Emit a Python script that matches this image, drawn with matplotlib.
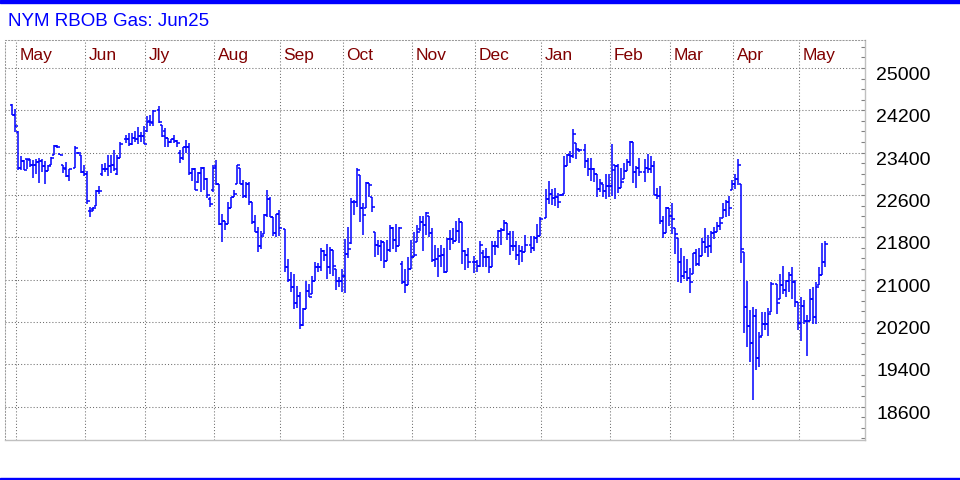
import numpy as np
import pandas as pd
import matplotlib
matplotlib.use("Agg")
import matplotlib.pyplot as plt
import matplotlib.transforms as mtransforms
from matplotlib.patches import Rectangle

# ---------------- data (one value per weekday, None = no trading) ----------------
start_date = "2024-04-29"
end_date = "2025-05-13"

opens = [
    24300, 24111, 23794, 23114, 23241, 23286, 23254, 23171, 23159, 23222,
    23241, 23146, 23044, 23159, 23349, 23527, 23375, 23159, 23100, 22968,
    None, 23108, 23400, 23349, 23032, 23000, 22301, 22330, 22400, 22682,
    23000, 23082, 23095, 23146, 23159, 23000, 23305, None, 23650, 23667,
    23571, 23679, 23667, 23711, 23711, 23800, 23990, 23960, None, 24200,
    23927, 23800, 23673, 23597, 23654, 23629, 23400, 23292, 23502, 23514,
    23006, 23089, 22850, 23019, 23102, 22911, 22530, 22700, 23150, 22803,
    22054, 22117, 22054, 22359, 22562, 22816, 23102, 22816, 22575, 22816,
    22467, 22086, 21895, 21628, 21863, 22213, 22530, 22181, 21876, 22232,
    None, 21965, 21248, 21000, 20867, 20568, 20695, 20143, 20454, 20790,
    20727, 20981, 21248, 21248, 21540, 21457, 21248, 21552, 21203, 20981,
    20981, 21076, 21476, 21700, 22473, 22473, 22981, 22346, 22346, 22822,
    22568, 21902, 21648, 21629, 21711, 21362, 21565, 21984, 21743, 21629,
    21300, 20949, 20905, 21203, 21425, 21711, 21950, 22092, 22041, 22200,
    21883, 21375, 21387, 21438, 21470, 21152, 21775, 21775, 21724, 21927,
    22086, 21533, 21470, None, 21330, 21330, 21267, 21500, 21419, 21419,
    21241, 21629, 21629, 21914, 21946, 22073, 21863, 21641, 21641, 21470,
    21546, 21514, None, 21660, 21597, 21787, 21819, None, 22168, 22517,
    22613, 22549, 22568, 22600, 22620, 23148, 23356, 23337, 23589, 23450,
    None, 23450, 23243, 23098, 23085, 22991, 22720, 22814, 22676, 22770,
    22770, 23161, 23148, 22739, 22896, 23054, 23224, 23602, 23035, 23117,
    None, 23035, 23117, 23098, 23148, 22594, 22581, 22109, 21888, 22361,
    22203, 21983, 21794, 21334, 21069, 21145, 21038, 21101, 21498, 21290,
    21447, 21705, 21623, 21635, 21876, 21908, 22015, 22161, 22319, 22465,
    22699, 22813, 22901, 22813, 21528, 20483, 20116, 19800, 20312, 19521,
    19945, 20167, 20167, 20388, None, 20914, 20642, 20895, 20800, 20971,
    21085, 20958, 20578, 20186, 20496, 20211, 20218, 20642, 20294, 20895,
    21085, 21325,
]

highs = [
    24314, 24225, 23806, 23330, 23254, 23286, 23273, 23254, 23286, 23298,
    23286, 23241, 23159, 23317, 23540, 23540, 23375, 23159, 23222, 23095,
    None, 23521, 23413, 23349, 23159, 23057, 22378, 22365, 22690, 22778,
    23190, 23210, 23349, 23362, 23451, 23349, 23603, None, 23730, 23762,
    23762, 23806, 23889, 23781, 23908, 24100, 24117, 24200, None, 24276,
    23927, 23863, 23673, 23654, 23737, 23641, 23451, 23514, 23641, 23578,
    23102, 23102, 23038, 23133, 23133, 22924, 22562, 23165, 23260, 22803,
    22244, 22117, 22467, 22562, 22689, 23165, 23102, 22879, 22848, 22848,
    22467, 22213, 21997, 21914, 22232, 22689, 22562, 22181, 22244, 22308,
    None, 21965, 21394, 21140, 21108, 20886, 20759, 20473, 20981, 20917,
    21076, 21330, 21311, 21603, 21552, 21679, 21616, 21552, 21203, 21044,
    21203, 21775, 21997, 22537, 22505, 23108, 22981, 22441, 22854, 22822,
    22568, 21902, 21743, 21743, 21711, 21743, 22029, 21990, 22060, 21997,
    21362, 21203, 21425, 21743, 21902, 22029, 22200, 22200, 22276, 22200,
    21978, 21660, 21597, 21660, 21597, 21787, 21946, 21978, 22105, 22156,
    22086, 21565, 21597, None, 21451, 21375, 21724, 21565, 21597, 21438,
    21724, 21724, 21946, 21978, 22136, 22073, 21914, 21914, 21724, 21660,
    21629, 21851, None, 21819, 21832, 22060, 22187, None, 22708, 22867,
    22708, 22740, 22644, 22620, 23337, 23369, 23432, 23854, 23589, 23463,
    None, 23558, 23306, 23306, 23117, 22991, 22896, 22814, 22991, 22991,
    23558, 23161, 23180, 23117, 23211, 23287, 23621, 23602, 23148, 23306,
    None, 23274, 23369, 23337, 23243, 22739, 22770, 22203, 22380, 22361,
    22443, 21983, 21794, 21605, 21447, 21384, 21227, 21510, 21573, 21605,
    21780, 21971, 21844, 21927, 22003, 22098, 22192, 22446, 22496, 22585,
    22889, 23003, 23281, 22813, 21528, 20971, 20433, 20483, 20452, 20009,
    20388, 20388, 20471, 20958, None, 20914, 21104, 21256, 20990, 21148,
    21230, 20990, 20578, 20673, 20623, 20325, 20832, 20863, 20958, 21230,
    21686, 21737,
]

lows = [
    24111, 23794, 23063, 23063, 23076, 23082, 23127, 22924, 23000, 22828,
    23032, 22809, 23044, 23159, 23349, 23489, 23349, 23019, 22936, 22866,
    None, 23108, 23381, 23013, 22968, 22428, 22193, 22301, 22397, 22619,
    22968, 23032, 22955, 23019, 23057, 22981, 23298, None, 23590, 23527,
    23540, 23603, 23571, 23603, 23571, 23781, 23908, 23895, None, 23958,
    23692, 23514, 23514, 23590, 23578, 23514, 23197, 23260, 23387, 22975,
    22867, 22701, 22828, 22657, 22689, 22549, 22371, 22657, 22784, 22035,
    21705, 21939, 22054, 22359, 22562, 22816, 22816, 22549, 22549, 22403,
    22054, 21895, 21514, 21578, 21863, 22181, 22181, 21832, 21800, 21832,
    None, 21140, 20949, 20759, 20441, 20473, 20060, 20124, 20454, 20676,
    20727, 20981, 21140, 21171, 21362, 21013, 21108, 21076, 20803, 20867,
    20759, 20739, 21413, 21679, 22219, 22378, 22092, 21838, 22346, 22568,
    22283, 21425, 21457, 21362, 21222, 21362, 21521, 21584, 21521, 21629,
    20917, 20739, 20905, 21203, 21425, 21711, 21914, 21533, 21851, 21806,
    21343, 21248, 21057, 21248, 21133, 21152, 21565, 21679, 21724, 21692,
    21298, 21184, 21216, None, 21133, 21152, 21248, 21248, 21248, 21133,
    21241, 21470, 21597, 21660, 21914, 21756, 21470, 21533, 21375, 21279,
    21343, 21514, None, 21502, 21533, 21692, 21819, None, 22168, 22422,
    22403, 22390, 22359, 22580, 22613, 23148, 23211, 23306, 23274, 23420,
    None, 23117, 22959, 22865, 22846, 22569, 22657, 22569, 22518, 22569,
    22581, 22518, 22644, 22739, 22896, 23054, 23148, 22833, 22739, 22959,
    None, 22846, 23010, 23022, 22594, 22518, 22046, 21794, 21888, 22014,
    21857, 21479, 20956, 20943, 21006, 20975, 20754, 21101, 21258, 21258,
    21447, 21496, 21433, 21496, 21762, 21908, 21939, 22161, 22192, 22205,
    22699, 22712, 22794, 21319, 19990, 19724, 19439, 18724, 19293, 19357,
    19945, 20040, 19945, 20388, None, 20357, 20642, 20737, 20673, 20768,
    20642, 20483, 20040, 19838, 20154, 19566, 20218, 20167, 20167, 20895,
    21085, 21230,
]

closes = [
    24111, 23902, 23114, 23241, 23076, 23273, 23159, 23159, 23222, 23241,
    23146, 23044, 23146, 23305, 23527, 23508, 23362, 23108, 22968, 23082,
    None, 23495, 23400, 23032, 23000, 22479, 22301, 22352, 22670, 22682,
    23082, 23095, 23146, 23159, 23082, 23305, 23571, None, 23667, 23571,
    23679, 23667, 23711, 23705, 23571, 23984, 23971, 24181, None, 23971,
    23705, 23673, 23597, 23654, 23629, 23578, 23292, 23502, 23514, 23006,
    23089, 22701, 23019, 23102, 22911, 22606, 22435, 23102, 22803, 22054,
    22117, 22054, 22359, 22562, 22625, 23165, 22816, 22575, 22816, 22467,
    22086, 21895, 21628, 21832, 22213, 22530, 22181, 21876, 22232, 21984,
    None, 21248, 21000, 20867, 20568, 20695, 20143, 20454, 20790, 20676,
    20981, 21248, 21248, 21540, 21457, 21248, 21552, 21267, 20981, 20981,
    21076, 21476, 21584, 22473, 22473, 23076, 22346, 22219, 22835, 22790,
    22378, 21648, 21629, 21711, 21362, 21565, 21984, 21743, 21629, 21984,
    20949, 20905, 21203, 21425, 21457, 21902, 22092, 22041, 22263, 21883,
    21375, 21387, 21438, 21470, 21152, 21775, 21775, 21724, 21927, 22086,
    21533, 21470, 21330, None, 21330, 21267, 21648, 21419, 21419, 21241,
    21629, 21629, 21914, 21946, 22073, 21863, 21641, 21641, 21470, 21546,
    21514, 21660, None, 21597, 21787, 21819, 22149, None, 22517, 22613,
    22549, 22568, 22467, 22600, 23148, 23356, 23337, 23747, 23463, 23450,
    None, 23243, 23098, 23085, 22991, 22720, 22833, 22676, 22770, 22770,
    23072, 23148, 22739, 22846, 23054, 23224, 23602, 23035, 23117, 23035,
    None, 23117, 23098, 23148, 22594, 22581, 22109, 21888, 22361, 22203,
    22150, 21857, 21334, 21069, 21145, 21038, 20956, 21498, 21290, 21447,
    21705, 21623, 21635, 21876, 21908, 22015, 22079, 22319, 22465, 22351,
    22813, 22901, 23174, 21572, 20483, 20116, 19800, 20312, 19521, 19926,
    20167, 20167, 20357, 20914, None, 20566, 20895, 20800, 20971, 21085,
    20958, 20578, 20186, 20496, 20211, 20218, 20642, 20294, 20863, 21085,
    21325, 21667,
]

month_labels = ["May", "Jun", "Jly", "Aug", "Sep", "Oct", "Nov", "Dec",
                "Jan", "Feb", "Mar", "Apr", "May"]
month_periods = pd.period_range("2024-05", "2025-05", freq="M")
ytick_values = [18600, 19400, 20200, 21000, 21800, 22600, 23400, 24200, 25000]
title_text = "NYM RBOB Gas: Jun25"

# ---------------- figure ----------------
FONT = "Liberation Sans"
BLUE = "#0000FF"
fig = plt.figure(figsize=(9.6, 4.8), dpi=100)
fig.patch.set_facecolor("white")
ax = fig.add_axes([5 / 960, 40 / 480, 860 / 960, 400 / 480])

dates = pd.bdate_range(start_date, end_date)
xpos = np.arange(len(dates), dtype=float)

valid = np.array([h is not None for h in highs])
xv = xpos[valid]
ov = np.array([v for v in opens if v is not None], float)
hv = np.array([v for v in highs if v is not None], float)
lv = np.array([v for v in lows if v is not None], float)
cv = np.array([v for v in closes if v is not None], float)

w = 0.85
lw = 1.1
ax.vlines(xv, lv, hv, colors=BLUE, linewidth=lw)
ax.hlines(ov, xv - w, xv, colors=BLUE, linewidth=lw)
ax.hlines(cv, xv, xv + w, colors=BLUE, linewidth=lw)

ax.set_xlim(-2.43, 284.23)
ax.set_ylim(17971, 25528)

# month grid lines (at last weekday before each month)
periods = dates.to_period("M")
month_pos = []
for p in month_periods:
    first = int(np.argmax(periods == p))
    month_pos.append(first - 1 + 0.1)

grid_style = dict(color="#6e6e6e", linewidth=0.75, linestyle=(0, (1, 2)))
ax.set_xticks(month_pos)
ax.set_xticklabels([])
ax.tick_params(axis="x", length=0)
ax.set_yticks(ytick_values)
ax.set_yticks(np.arange(18000, 25600, 200), minor=True)
ax.yaxis.tick_right()
ax.set_yticklabels([])
ax.tick_params(axis="y", which="both", direction="in", length=3,
               color="#808080", width=0.8)
ax.grid(True, which="major", **grid_style)
ax.set_axisbelow(True)

for s in ["top", "left"]:
    ax.spines[s].set_color("#9a9a9a")
    ax.spines[s].set_linestyle((0, (1, 2)))
    ax.spines[s].set_linewidth(0.75)
for s in ["right", "bottom"]:
    ax.spines[s].set_color("#c0c0c0")
    ax.spines[s].set_linewidth(1.0)

# month labels
for pos, lab in zip(month_pos, month_labels):
    ax.text(pos + 1.3, 0.962, lab, transform=ax.get_xaxis_transform(),
            ha="left", va="center", fontsize=12.5, color="#800000",
            family=FONT)

# price labels on the right
ytrans = mtransforms.blended_transform_factory(ax.transAxes, ax.transData) + \
    mtransforms.ScaledTranslation(11 / 100, -7.5 / 100, fig.dpi_scale_trans)
for v in ytick_values:
    ax.text(1.0, v, f"{v}", transform=ytrans, ha="left", va="center",
            fontsize=14, color="black", family=FONT)

# title
fig.text(8 / 960, 1 - 21 / 480, title_text, ha="left", va="center",
         fontsize=13.5, color=BLUE, family=FONT)

# blue frame bands
fig.patches.append(Rectangle((0, 1 - 2.7 / 480), 1, 2.7 / 480,
                             transform=fig.transFigure, color=BLUE, zorder=5))
fig.patches.append(Rectangle((0, 0), 1, 2.3 / 480,
                             transform=fig.transFigure, color=BLUE, zorder=5))

fig.savefig("out.png", dpi=100, facecolor="white")
